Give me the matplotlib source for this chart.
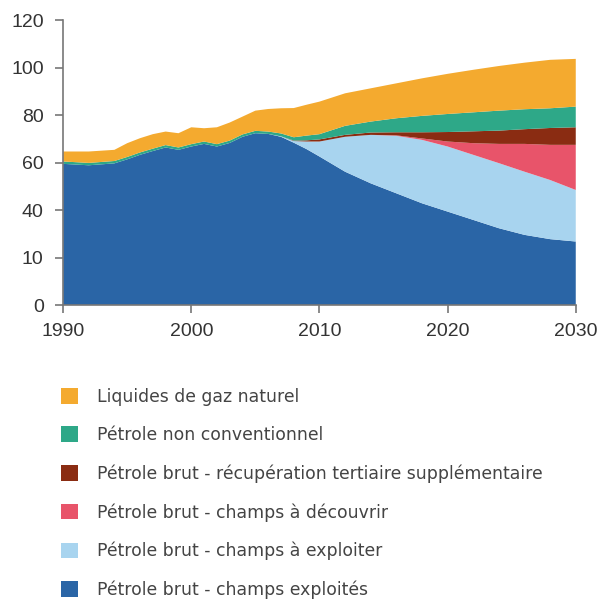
import numpy as np
import matplotlib
matplotlib.use('Agg')
import matplotlib.pyplot as plt

# 1. données (Mb/j), épaisseur de chaque couche empilée
years = [1990, 1992, 1994, 1995, 1996, 1997, 1998, 1999, 2000, 2001, 2002, 2003,
         2004, 2005, 2006, 2007, 2008, 2009, 2010, 2012, 2014, 2016, 2018, 2020,
         2022, 2024, 2026, 2028, 2030]

champs_exploites = [59.6, 59.0, 59.8, 61.5, 63.4, 65.0, 66.5, 65.5, 66.9, 68.0, 66.9, 68.4,
                    71.0, 72.5, 72.2, 71.0, 68.5, 65.8, 62.7, 56.3, 51.4, 47.2, 43.0, 39.5,
                    36.0, 32.5, 29.7, 27.9, 26.9]
champs_a_exploiter = [0, 0, 0, 0, 0, 0, 0, 0, 0, 0, 0, 0,
                      0, 0, 0, 0.2, 0.7, 3.2, 6.3, 14.7, 20.4, 24.2, 26.7, 27.4,
                      27.4, 27.4, 26.6, 24.9, 21.7]
champs_a_decouvrir = [0, 0, 0, 0, 0, 0, 0, 0, 0, 0, 0, 0,
                      0, 0, 0, 0, 0, 0, 0, 0, 0, 0.2, 0.6, 2.1,
                      4.9, 8.1, 11.7, 14.8, 19.0]
recup_tertiaire = [0, 0, 0, 0, 0, 0, 0, 0, 0, 0, 0, 0,
                   0, 0, 0, 0, 0.2, 0.5, 0.9, 0.8, 1.0, 1.3, 2.6, 4.0,
                   5.0, 5.6, 6.2, 7.1, 7.4]
non_conventionnel = [1.0, 1.0, 1.0, 1.0, 1.0, 1.0, 1.0, 1.0, 1.0, 1.0, 1.0, 1.0,
                     1.0, 1.0, 1.0, 1.2, 1.4, 2.0, 2.2, 3.8, 4.6, 5.9, 6.9, 7.6,
                     8.0, 8.4, 8.4, 8.3, 8.7]
gaz_naturel = [4.2, 4.8, 4.7, 5.8, 6.0, 6.1, 5.7, 6.0, 7.1, 5.6, 7.1, 7.6,
               7.5, 8.5, 9.5, 10.6, 12.3, 13.0, 13.7, 13.7, 14.0, 14.7, 15.8, 16.9,
               17.9, 18.8, 19.6, 20.4, 20.1]

labels = ['Pétrole brut - champs exploités',
          'Pétrole brut - champs à exploiter',
          'Pétrole brut - champs à découvrir',
          'Pétrole brut - récupération tertiaire supplémentaire',
          'Pétrole non conventionnel',
          'Liquides de gaz naturel']
couleurs = ['#2a65a6', '#a8d4ef', '#e8546a', '#8a2c12', '#2ea888', '#f4aa2f']

y_ticks = [0, 20, 40, 60, 80, 100, 120]
y_labels = ['0', '10', '40', '60', '80', '100', '120']
x_ticks = [1990, 2000, 2010, 2020, 2030]

# 2. figure
fig = plt.figure(figsize=(6.01, 6.00), dpi=100)
ax = fig.add_axes([0.105, 0.491, 0.853, 0.475])

polys = ax.stackplot(years, champs_exploites, champs_a_exploiter, champs_a_decouvrir,
                     recup_tertiaire, non_conventionnel, gaz_naturel,
                     colors=couleurs, labels=labels, linewidth=0)

ax.set_xlim(1990, 2030)
ax.set_ylim(0, 120)
ax.set_yticks(y_ticks)
ax.set_yticklabels(y_labels)
ax.set_xticks(x_ticks)

for s in ['top', 'right']:
    ax.spines[s].set_visible(False)
for s in ['left', 'bottom']:
    ax.spines[s].set_color('#777777')
    ax.spines[s].set_linewidth(1.2)
ax.tick_params(colors='#777777', length=6, width=1.2)
ax.tick_params(axis='x', pad=7)
ax.tick_params(axis='y', pad=8)
for lab in ax.get_xticklabels() + ax.get_yticklabels():
    lab.set_fontfamily('Liberation Sans')
    lab.set_fontsize(14)
    lab.set_color('#333333')

# 3. légende (ordre inversé)
h, l = ax.get_legend_handles_labels()
fig.legend(h[::-1], l[::-1], loc='upper left', bbox_to_anchor=(0.09, 0.365),
           frameon=False, prop={'family': 'DejaVu Sans', 'size': 12.45},
           labelcolor='#444444', handlelength=1.0, handleheight=1.0,
           handletextpad=1.1, labelspacing=1.17, borderaxespad=0)

fig.savefig('out.png', dpi=100)
